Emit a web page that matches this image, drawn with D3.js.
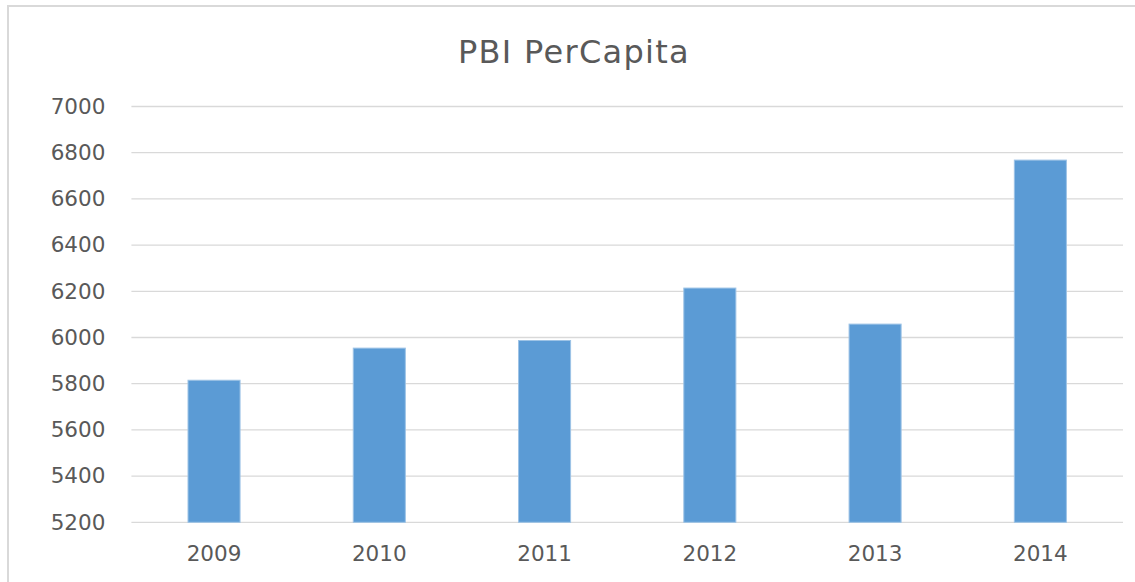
<!DOCTYPE html>
<html>
<head>
  <meta charset="utf-8">
  <title>PBI PerCapita</title>
  <script src="https://d3js.org/d3.v7.min.js"></script>
  <style type="text/css">
    body {
      margin: 0;
      background: #fff;
    }

    text {
      font-family: "DejaVu Sans", sans-serif;
      fill: #595959;
    }

    .grid line {
      stroke: #d9d9d9;
      stroke-width: 1.3px;
    }

    .bar {
      fill: #5b9bd5;
      stroke: #9dc3e6;
      stroke-width: 1px;
    }
  </style>
</head>
<body>
  <script>
var years = ['2009', '2010', '2011', '2012', '2013', '2014'];
var pbi = [5815, 5954, 5987, 6214, 6058, 6768];
var yTicks = [5200, 5400, 5600, 5800, 6000, 6200, 6400, 6600, 6800, 7000];

var width = 1135,
    height = 582;

var margin = {top: 106.5, right: 12, bottom: 59.7, left: 131.4};

var svg = d3.select("body").append("svg")
    .attr("width", width)
    .attr("height", height);

// chart frame (right and bottom edges fall outside the picture)
svg.append("rect")
    .attr("x", 8)
    .attr("y", 6)
    .attr("width", width + 20)
    .attr("height", height + 20)
    .attr("fill", "#fff")
    .attr("stroke", "#d9d9d9")
    .attr("stroke-width", 2);

var x = d3.scaleBand()
    .domain(years)
    .range([margin.left, width - margin.right])
    .paddingInner(0.685)
    .paddingOuter(0.3425);

var y = d3.scaleLinear()
    .domain([5200, 7000])
    .range([height - margin.bottom, margin.top]);

// horizontal gridlines
svg.append("g")
    .attr("class", "grid")
    .selectAll("line")
    .data(yTicks)
    .enter()
    .append("line")
    .attr("x1", margin.left)
    .attr("x2", width - margin.right)
    .attr("y1", function(d) { return y(d); })
    .attr("y2", function(d) { return y(d); });

svg.selectAll(".bar")
    .data(pbi)
    .enter()
    .append("rect")
    .attr("class", "bar")
    .attr("x", function(d, i) { return x(years[i]); })
    .attr("y", function(d) { return y(d); })
    .attr("width", x.bandwidth())
    .attr("height", function(d) { return y(5200) - y(d); });

// y axis labels
var yAxis = svg.append("g")
    .attr("transform", "translate(" + (margin.left - 26) + ",0)")
    .call(d3.axisLeft(y).tickValues(yTicks).tickSize(0).tickPadding(0).tickFormat(d3.format("d")));
yAxis.select(".domain").remove();
yAxis.selectAll("text")
    .attr("fill", "#595959")
    .style("font-size", "21.5px")
    .style("font-family", "DejaVu Sans");

// x axis labels
var xAxis = svg.append("g")
    .attr("transform", "translate(0," + (height - margin.bottom) + ")")
    .call(d3.axisBottom(x).tickSize(0).tickPadding(23));
xAxis.select(".domain").remove();
xAxis.selectAll("text")
    .attr("fill", "#595959")
    .style("font-size", "21.5px")
    .style("font-family", "DejaVu Sans");

svg.append("text")
    .attr("x", 574)
    .attr("y", 63)
    .attr("text-anchor", "middle")
    .style("font-size", "32px")
    .style("letter-spacing", "1.3px")
    .text("PBI PerCapita");
  </script>
</body>
</html>
